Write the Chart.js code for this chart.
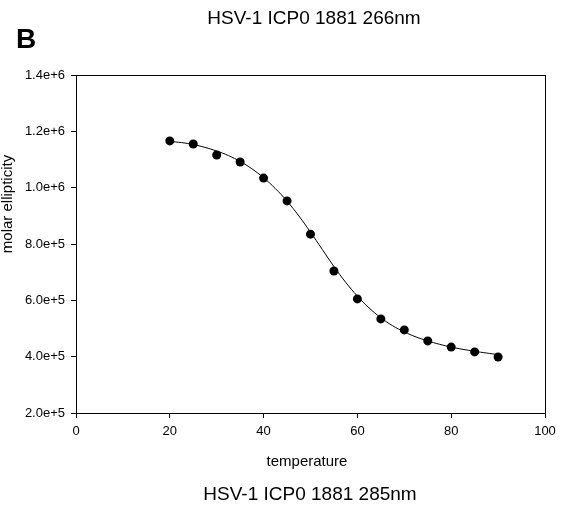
<!DOCTYPE html>
<html>
<head>
<meta charset="utf-8">
<script src="https://cdn.jsdelivr.net/npm/chart.js@4/dist/chart.umd.min.js"></script>
<style>
html,body{margin:0;padding:0;background:#fff;}
#wrap{position:relative;width:571px;height:507px;}
canvas{position:absolute;left:0;top:0;}
</style>
</head>
<body>
<div id="wrap"><canvas id="c" width="571" height="507"></canvas></div>
<script>
const topTitle = "HSV-1 ICP0 1881 266nm";
const bottomTitle = "HSV-1 ICP0 1881 285nm";
const panelLabel = "B";
const xTitle = "temperature";
const yTitle = "molar ellipticity";

const temperature = [20,25,30,35,40,45,50,55,60,65,70,75,80,85,90];
const ellipticity = [1.166e6,1.155e6,1.116e6,1.091e6,1.034e6,0.953e6,0.835e6,0.704e6,0.605e6,0.534e6,0.495e6,0.456e6,0.434e6,0.417e6,0.399e6];

const fitTemperature = [20,22.5,25,27.5,30,32.5,35,37.5,40,42.5,45,47.5,50,52.5,55,57.5,60,62.5,65,67.5,70,72.5,75,77.5,80,82.5,85,87.5,90];
const fitEllipticity = [1.164e6,1.160e6,1.153e6,1.143e6,1.130e6,1.114e6,1.093e6,1.067e6,1.035e6,0.997e6,0.952e6,0.900e6,0.842e6,0.781e6,0.720e6,0.664e6,0.615e6,0.573e6,0.538e6,0.510e6,0.488e6,0.470e6,0.456e6,0.444e6,0.434e6,0.426e6,0.419e6,0.413e6,0.407e6];

const xTicks = [0,20,40,60,80,100];
const yTicks = [2e5,4e5,6e5,8e5,1.0e6,1.2e6,1.4e6];

const FONT = "'Liberation Sans', Arial, sans-serif";

const textPlugin = {
  id: 'texts',
  afterDraw(chart) {
    const ctx = chart.ctx;
    const a = chart.chartArea;
    ctx.save();
    ctx.strokeStyle = '#000';
    ctx.lineWidth = 1;
    ctx.strokeRect(Math.round(a.left)+0.5, Math.round(a.top)+0.5, Math.round(a.right-a.left), Math.round(a.bottom-a.top));
    ctx.fillStyle = '#000';
    ctx.textAlign = 'center';
    ctx.textBaseline = 'alphabetic';
    ctx.font = "19px " + FONT;
    ctx.fillText(topTitle, 314, 24);
    ctx.fillText(bottomTitle, 310, 500);
    ctx.font = "15px " + FONT;
    ctx.fillText(xTitle, 307, 466);
    ctx.font = "bold 28px " + FONT;
    ctx.textAlign = 'left';
    ctx.fillText(panelLabel, 16, 48);
    ctx.translate(12, 204);
    ctx.rotate(-Math.PI/2);
    ctx.textAlign = 'center';
    ctx.font = "15px " + FONT;
    ctx.fillText(yTitle, 0, 0);
    ctx.restore();
  }
};

new Chart(document.getElementById('c'), {
  type: 'scatter',
  data: {
    datasets: [
      {
        label: 'fit',
        data: fitTemperature.map((x,i)=>({x:x, y:fitEllipticity[i]})),
        showLine: true,
        borderColor: '#000',
        borderWidth: 1,
        pointRadius: 0,
        tension: 0.4,
        fill: false
      },
      {
        label: 'data',
        data: temperature.map((x,i)=>({x:x, y:ellipticity[i]})),
        showLine: false,
        pointRadius: 4.5,
        pointBackgroundColor: '#000',
        pointBorderColor: '#000',
        pointBorderWidth: 0
      }
    ]
  },
  options: {
    responsive: false,
    animation: false,
    devicePixelRatio: 1,
    layout: { padding: { left: 0, right: 26, top: 75, bottom: 0 } },
    plugins: { legend: { display: false }, tooltip: { enabled: false }, title: { display: false } },
    scales: {
      x: {
        type: 'linear', min: 0, max: 100,
        afterBuildTicks(s){ s.ticks = xTicks.map(v=>({value:v})); },
        afterFit(s){ s.height = 94; },
        grid: { display: true, drawOnChartArea: false, drawTicks: true, tickLength: 5, color: '#000' },
        border: { display: true, color: '#000', width: 1 },
        ticks: { color: '#000', font: { size: 13, family: FONT }, padding: 6, maxRotation: 0 }
      },
      y: {
        type: 'linear', min: 2e5, max: 1.4e6,
        afterBuildTicks(s){ s.ticks = yTicks.map(v=>({value:v})); },
        afterFit(s){ s.width = 76; },
        grid: { display: true, drawOnChartArea: false, drawTicks: true, tickLength: 5, color: '#000' },
        border: { display: true, color: '#000', width: 1 },
        ticks: { color: '#000', font: { size: 13, family: FONT }, padding: 6,
          callback: v => Number(v).toExponential(1) }
      }
    }
  },
  plugins: [textPlugin]
});
</script>
</body>
</html>
